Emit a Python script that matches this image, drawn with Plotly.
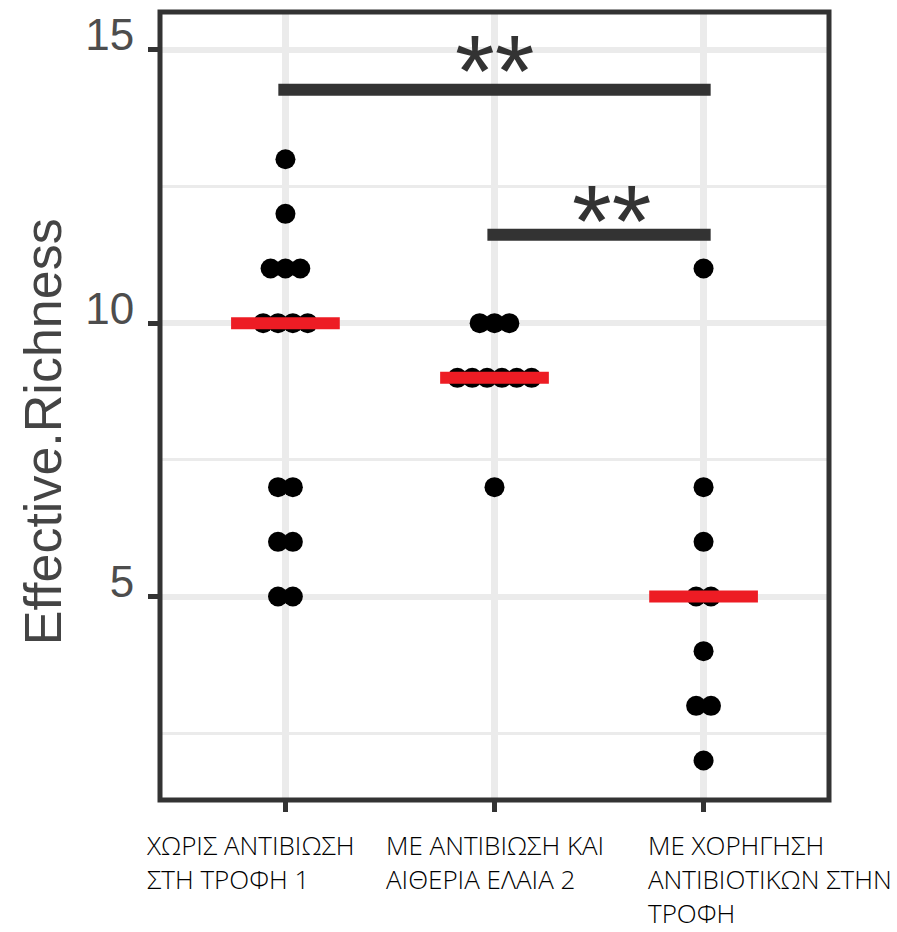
import numpy as np
import plotly.graph_objects as go

# --- data -------------------------------------------------------------
group_positions = [1, 2, 3]
group_lines = [
    ["ΧΩΡΙΣ ΑΝΤΙΒΙΩΣΗ", "ΣΤΗ ΤΡΟΦΗ 1"],
    ["ΜΕ ΑΝΤΙΒΙΩΣΗ ΚΑΙ", "ΑΙΘΕΡΙΑ ΕΛΑΙΑ 2"],
    ["ΜΕ ΧΟΡΗΓΗΣΗ", "ΑΝΤΙΒΙΟΤΙΚΩΝ ΣΤΗΝ", "ΤΡΟΦΗ"],
]
richness_g1 = [13, 12, 11, 11, 11, 10, 10, 10, 10, 7, 7, 6, 6, 5, 5]
richness_g2 = [10, 10, 10, 9, 9, 9, 9, 9, 9, 7]
richness_g3 = [11, 7, 6, 5, 5, 4, 3, 3, 2]
groups = [richness_g1, richness_g2, richness_g3]

sig_from = [1, 2]
sig_to = [3, 3]
sig_height = [14.27, 11.62]
sig_text = ["**", "**"]

y_ticks = [5, 10, 15]
y_minor = [2.5, 7.5, 12.5]

# --- styling ----------------------------------------------------------
DOT_STEP = 0.071      # horizontal spacing of stacked dots (x units)
MEDIAN_HALF = 0.26    # half width of the median bar
SIG_PAD = 0.034       # overhang of significance bars past the groups
GRID = "#EBEBEB"
DARK = "#333333"

fig = go.Figure()

# dot plot: equal values are stacked side by side, centred on the group
for pos, vals in zip(group_positions, groups):
    xs, ys = [], []
    vals = np.asarray(vals)
    for v in np.unique(vals):
        n = int((vals == v).sum())
        offs = (np.arange(n) - (n - 1) / 2) * DOT_STEP
        xs.extend(pos + offs)
        ys.extend([v] * n)
    fig.add_trace(go.Scatter(
        x=xs, y=ys, mode="markers",
        marker=dict(size=20, color="#000000", line=dict(width=0)),
        hoverinfo="skip", showlegend=False))

# red median bars
for pos, vals in zip(group_positions, groups):
    med = float(np.median(vals))
    fig.add_trace(go.Scatter(
        x=[pos - MEDIAN_HALF, pos + MEDIAN_HALF], y=[med, med],
        mode="lines", line=dict(color="#ED1C24", width=12),
        hoverinfo="skip", showlegend=False))

# significance bars with stars
star_dx = [0, 12]
star_dy = [19, 14]
for a, b, h, txt, dx, dy in zip(sig_from, sig_to, sig_height, sig_text,
                                star_dx, star_dy):
    fig.add_trace(go.Scatter(
        x=[a - SIG_PAD, b + SIG_PAD], y=[h, h], mode="lines",
        line=dict(color=DARK, width=12),
        hoverinfo="skip", showlegend=False))
    fig.add_annotation(
        x=(a + b) / 2, y=h, xref="x", yref="y", text=txt,
        showarrow=False, xanchor="center", yanchor="middle",
        xshift=dx, yshift=dy,
        font=dict(family="Liberation Sans", size=102, color=DARK))

# group labels beneath the axis, left aligned
label_shift = [-141, -111, -58]
for pos, lines, sh in zip(group_positions, group_lines, label_shift):
    fig.add_annotation(
        x=pos, y=-0.032, xref="x", yref="paper",
        text="<br>".join(lines), showarrow=False,
        xanchor="left", yanchor="top", align="left", xshift=sh,
        font=dict(family="Open Sans", size=26, color="#000000", weight=300))

# y-axis title
fig.add_annotation(
    x=-0.175, y=0.468, xref="paper", yref="paper",
    text="Effective.Richness", textangle=-90, showarrow=False,
    xanchor="center", yanchor="middle",
    font=dict(family="Liberation Sans", size=52, color="#444444"))

# panel border
fig.add_shape(type="rect", xref="paper", yref="paper",
              x0=0, x1=1, y0=0, y1=1, layer="above",
              line=dict(color=DARK, width=5))

fig.update_layout(
    width=897, height=932,
    margin=dict(l=160, r=68, t=10, b=132),
    paper_bgcolor="white", plot_bgcolor="white",
    showlegend=False,
)
fig.update_xaxes(
    range=[0.4, 3.6], tickvals=group_positions, showticklabels=False,
    ticks="outside", ticklen=11, tickwidth=5, tickcolor=DARK,
    showgrid=True, gridcolor=GRID, gridwidth=7,
    zeroline=False, showline=False,
)
fig.update_yaxes(
    range=[1.277, 15.693], tickvals=y_ticks,
    ticks="outside", ticklen=11, tickwidth=5, tickcolor=DARK,
    tickfont=dict(family="Liberation Sans", size=44, color="#4D4D4D"),
    ticklabelstandoff=5, ticklabelshift=-15,
    showgrid=True, gridcolor=GRID, gridwidth=6,
    minor=dict(tickvals=y_minor, showgrid=True, gridcolor=GRID,
               gridwidth=3, ticks=""),
    zeroline=False, showline=False,
)

fig.write_html("out.html")
